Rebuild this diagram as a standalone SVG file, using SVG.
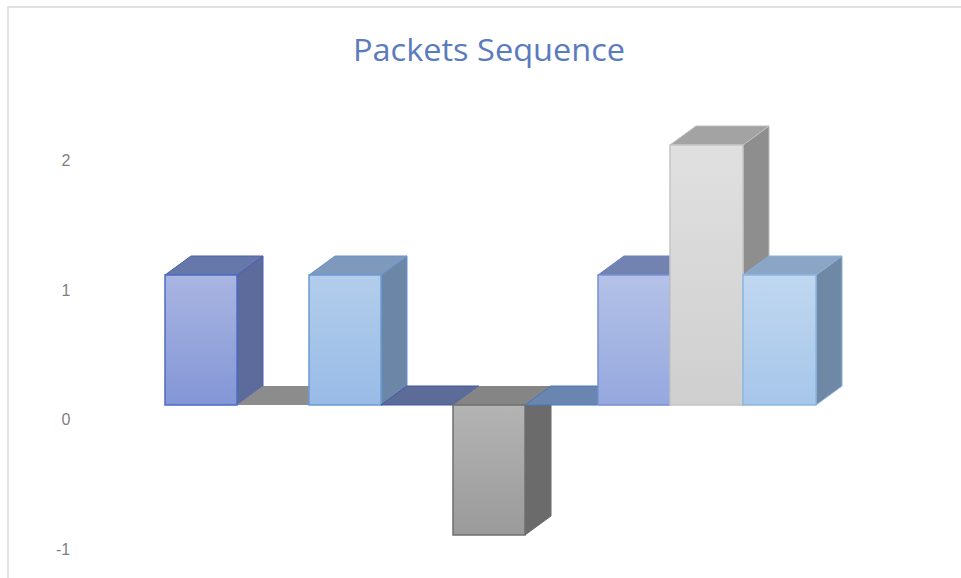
<svg xmlns="http://www.w3.org/2000/svg" width="961" height="578" viewBox="0 0 961 578">
<defs>
<linearGradient id="gB1" x1="0" y1="0" x2="0" y2="1"><stop offset="0" stop-color="#A9B5E2"/><stop offset="1" stop-color="#8396D6"/></linearGradient>
<linearGradient id="gB3" x1="0" y1="0" x2="0" y2="1"><stop offset="0" stop-color="#B3CDEC"/><stop offset="1" stop-color="#98BBE6"/></linearGradient>
<linearGradient id="gB5" x1="0" y1="0" x2="0" y2="1"><stop offset="0" stop-color="#B4B4B4"/><stop offset="1" stop-color="#9A9A9A"/></linearGradient>
<linearGradient id="gB7" x1="0" y1="0" x2="0" y2="1"><stop offset="0" stop-color="#B4C2E8"/><stop offset="1" stop-color="#95A8DE"/></linearGradient>
<linearGradient id="gB8" x1="0" y1="0" x2="0" y2="1"><stop offset="0" stop-color="#E0E0E0"/><stop offset="1" stop-color="#CFCFCF"/></linearGradient>
<linearGradient id="gB9" x1="0" y1="0" x2="0" y2="1"><stop offset="0" stop-color="#C0D7F0"/><stop offset="1" stop-color="#A6C6EA"/></linearGradient>
</defs>
<style>
.axis{font-family:"Liberation Sans",Arial,sans-serif;font-size:16px;fill:#7F7F7F;text-anchor:middle}
.title{font-family:"Open Sans","Liberation Sans",Arial,sans-serif;font-size:31px;fill:#5A7BBE;text-anchor:middle}
.frame{stroke:#D9D9D9;stroke-width:1.5;fill:none}
</style>
<rect width="961" height="578" fill="#FFFFFF"/>
<path class="frame" d="M8,578 V7 H961"/>
<text class="title" x="489" y="61" textLength="272" lengthAdjust="spacingAndGlyphs">Packets Sequence</text>
<g id="axis">
<text class="axis" x="66" y="166">2</text>
<text class="axis" x="66" y="296">1</text>
<text class="axis" x="66" y="425">0</text>
<text class="axis" x="63" y="555">-1</text>
</g>
<g id="bar1">
<polygon points="237,275 263,256 263,386 237,405" fill="#5C6B9C" stroke="#4D60A8" stroke-width="1"/>
<polygon points="165,275 191,256 263,256 237,275" fill="#6677AA" stroke="#4D60A8" stroke-width="1"/>
<rect x="165" y="275" width="72" height="130" fill="url(#gB1)" stroke="#4C6CC4" stroke-width="1.5"/>
</g>
<g id="bar2">
<polygon points="237,405 309,405 335,386 263,386" fill="#8C8C8C"/>
</g>
<g id="bar3">
<polygon points="381,275 407,256 407,386 381,405" fill="#6C86A8" stroke="#6A93C8" stroke-width="1"/>
<polygon points="309,275 335,256 407,256 381,275" fill="#7E99BC" stroke="#6A93C8" stroke-width="1"/>
<rect x="309" y="275" width="72" height="130" fill="url(#gB3)" stroke="#6A9BD6" stroke-width="1.5"/>
</g>
<g id="bar4">
<polygon points="381,405 453,405 479,386 407,386" fill="#5D6B98" stroke="#3E55A0" stroke-width="1"/>
</g>
<g id="bar5">
<polygon points="525,405 551,386 551,516 525,535" fill="#6B6B6B" stroke="#6A6A6A" stroke-width="1"/>
<polygon points="453,405 479,386 551,386 525,405" fill="#858585"/>
<rect x="453" y="405" width="72" height="130" fill="url(#gB5)" stroke="#6F6F6F" stroke-width="1.5"/>
</g>
<g id="bar6">
<polygon points="525,405 597,405 623,386 551,386" fill="#6985B0" stroke="#4A78BC" stroke-width="1"/>
</g>
<g id="bar7">
<polygon points="670,275 696,256 696,386 670,405" fill="#5E6E9C"/>
<polygon points="598,275 624,256 696,256 670,275" fill="#7283B2" stroke="#6A80C0" stroke-width="1"/>
<rect x="598" y="275" width="72" height="130" fill="url(#gB7)" stroke="#7890D2" stroke-width="1.5"/>
</g>
<g id="bar8">
<polygon points="743,145 769,126 769,386 743,405" fill="#8E8E8E" stroke="#BDBDBD" stroke-width="1"/>
<polygon points="670,145 696,126 769,126 743,145" fill="#A3A3A3" stroke="#BDBDBD" stroke-width="1"/>
<rect x="670" y="145" width="73" height="260" fill="url(#gB8)" stroke="#C4C4C4" stroke-width="1.5"/>
</g>
<g id="bar9">
<polygon points="816,275 842,256 842,386 816,405" fill="#6F88A6" stroke="#8AB0DC" stroke-width="1"/>
<polygon points="743,275 769,256 842,256 816,275" fill="#8AA5C6" stroke="#8AB0DC" stroke-width="1"/>
<rect x="743" y="275" width="73" height="130" fill="url(#gB9)" stroke="#8AB6E0" stroke-width="1.5"/>
</g>
</svg>
